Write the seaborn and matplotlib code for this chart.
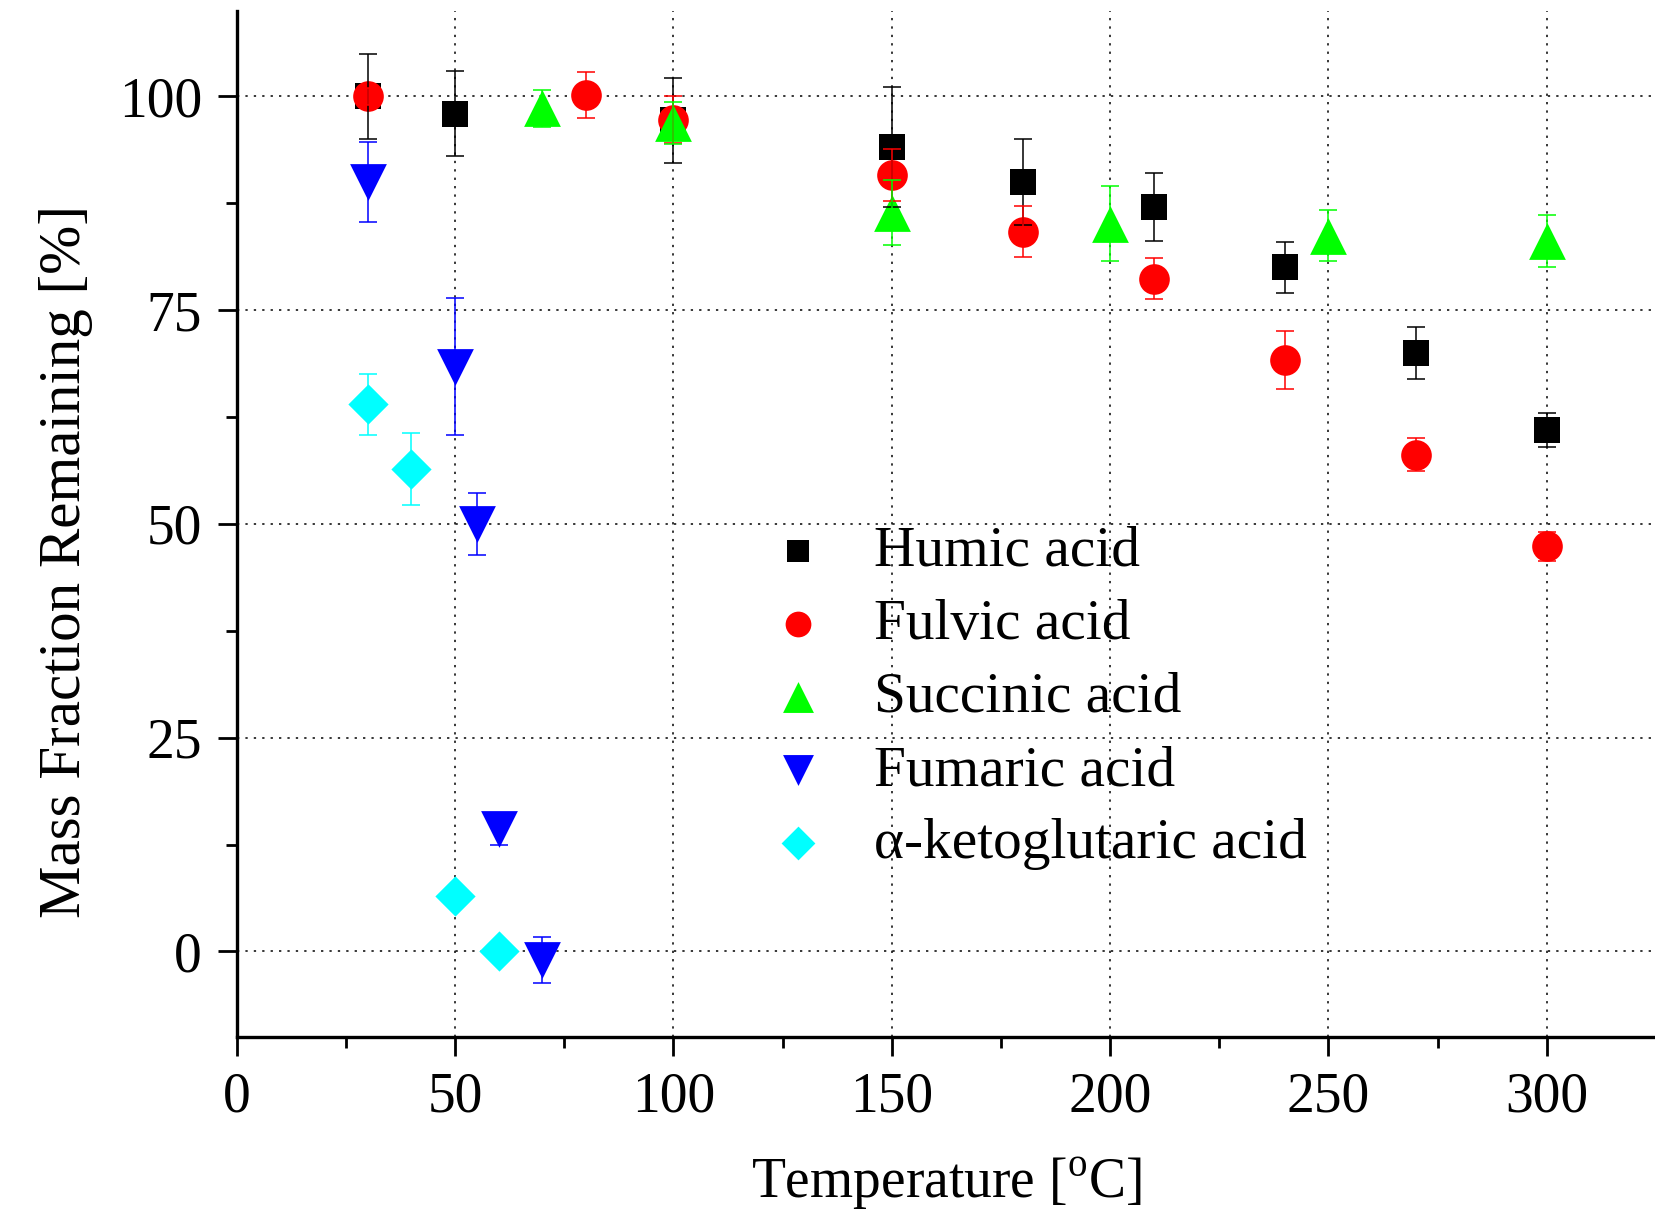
import seaborn as sns
import matplotlib.pyplot as plt
from matplotlib.ticker import MultipleLocator

# values
humic_x = [30, 50, 100, 150, 180, 210, 240, 270, 300]
humic_y = [100, 98, 97.2, 94.1, 90, 87.1, 80, 70, 61]
humic_err = [5, 5, 5, 7, 5, 4, 3, 3, 2]

fulvic_x = [30, 80, 100, 150, 180, 210, 240, 270, 300]
fulvic_y = [100, 100.2, 97.3, 90.8, 84.2, 78.7, 69.2, 58.1, 47.4]
fulvic_err = [1, 2.7, 2.7, 3, 3, 2.4, 3.4, 1.9, 1.7]

succinic_x = [70, 100, 150, 200, 250, 300]
succinic_y = [98.6, 96.9, 86.4, 85.1, 83.7, 83.1]
succinic_err = [2.2, 2.5, 3.8, 4.4, 3, 3]

fumaric_x = [30, 50, 55, 60, 70]
fumaric_y = [90, 68.4, 50, 14.3, -1]
fumaric_err = [4.7, 8, 3.6, 1.8, 2.7]

keto_x = [30, 40, 50, 60]
keto_y = [64, 56.4, 6.5, 0]
keto_err = [3.6, 4.2, 0.4, 0.2]

series = [
    ("Humic acid", humic_x, humic_y, humic_err, "black", "s", 377),
    ("Fulvic acid", fulvic_x, fulvic_y, fulvic_err, "#ff0000", "o", 487),
    ("Succinic acid", succinic_x, succinic_y, succinic_err, "#00ff00", "^", 700),
    ("Fumaric acid", fumaric_x, fumaric_y, fumaric_err, "#0000ff", "v", 700),
    ("\u03b1-ketoglutaric acid", keto_x, keto_y, keto_err, "#00ffff", "D", 420),
]

sns.set_style("ticks")
plt.rcParams["font.family"] = ["Liberation Serif", "DejaVu Serif"]
plt.rcParams["mathtext.fontset"] = "custom"
plt.rcParams["mathtext.rm"] = "Liberation Serif"
plt.rcParams["text.color"] = "black"
plt.rcParams["axes.labelcolor"] = "black"
plt.rcParams["xtick.color"] = "black"
plt.rcParams["ytick.color"] = "black"

fig = plt.figure(figsize=(16.56, 12.2), dpi=100)
ax = fig.add_axes([0.1429, 0.15, 0.8571, 0.841])

for name, x, y, err, col, mk, size in series:
    sns.scatterplot(x=x, y=y, ax=ax, color=col, marker=mk, s=size,
                    linewidth=0, label=name, zorder=3)
    ax.errorbar(x, y, yerr=err, fmt="none", ecolor=col, elinewidth=1.1,
                capsize=6.8, capthick=1.1, zorder=4)

ax.set_xlim(0, 325)
ax.set_ylim(-10, 110)
ax.xaxis.set_major_locator(MultipleLocator(50))
ax.xaxis.set_minor_locator(MultipleLocator(25))
ax.yaxis.set_major_locator(MultipleLocator(25))
ax.yaxis.set_minor_locator(MultipleLocator(12.5))

ax.grid(True, which="major", color="black", linestyle=(0, (1.5, 4)), linewidth=1.1)
sns.despine(ax=ax, top=True, right=True)
for sp in ["left", "bottom"]:
    ax.spines[sp].set_linewidth(2.4)
    ax.spines[sp].set_color("black")

ax.tick_params(axis="both", which="major", direction="out", length=14,
               width=2, labelsize=40, pad=11, colors="black")
ax.tick_params(axis="both", which="minor", direction="out", length=8, width=2,
               colors="black")

ax.set_xlabel(r"Temperature [$^{\mathrm{o}}$C]", fontsize=40, color="black")
ax.set_ylabel("Mass Fraction Remaining [%]", fontsize=42.5, color="black")
ax.xaxis.set_label_coords(0.5, -0.115)
ax.yaxis.set_label_coords(-0.101, 0.463)

leg = ax.legend(loc="center left", bbox_to_anchor=(0.3754, 0.3305), frameon=False,
                fontsize=41.3, handlelength=1.0, handletextpad=0.83, borderpad=0,
                borderaxespad=0, labelspacing=0.367, markerscale=0.84)
for t in leg.get_texts():
    t.set_color("black")

fig.savefig("out.png", dpi=100)
